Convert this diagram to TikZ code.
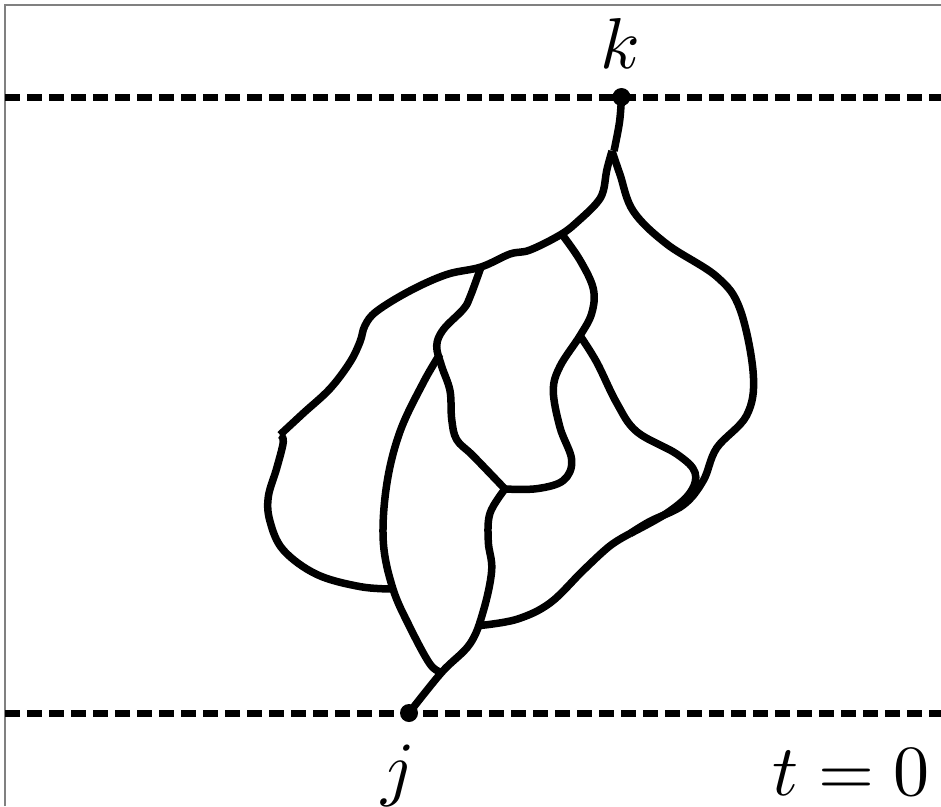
\documentclass[tikz,border=0pt]{standalone}
\begin{document}
\begin{tikzpicture}[x=1pt,y=-1pt,
  curve/.style={line width=7.5pt, line join=round},
  timeline/.style={line width=7pt, dash pattern=on 15pt off 7pt},
  vertexdot/.style={circle, fill=black, inner sep=0pt, minimum size=18pt},
  lbl/.style={scale=7.2, anchor=base, inner sep=0pt}]
\useasboundingbox (0,0) rectangle (941,806);
\draw[gray, line width=1.6pt] (5,806) -- (5,5) -- (941,5);
% time lines
\coordinate (TL) at (5,97);   \coordinate (TR) at (941,97);
\coordinate (BL) at (5,713);  \coordinate (BR) at (941,713);
\draw[timeline] (TL) -- (TR);
\draw[timeline] (BL) -- (BR);
% vertices and junctions
\coordinate (K) at (621.5,97);
\coordinate (J) at (409,713);
\coordinate (F) at (612,151);
\coordinate (J1) at (561.7,234);
\coordinate (J2) at (481,267);
\coordinate (J3) at (393,589);
\coordinate (J4) at (441.7,672.3);
\coordinate (J5) at (505,489);
\coordinate (J6) at (580,335.7);
\coordinate (J7) at (480,625.5);
\coordinate (J8) at (630,533.6);
\coordinate (J9) at (440,354);
% curves
\draw[curve] plot[smooth, tension=0.6] coordinates {(K) (619.5,122) (614,151)};
\draw[curve] plot[smooth, tension=0.6] coordinates {(F) (606.7,170.5) (603.3,190.9) (596.7,203) (580,219.4) (J1) (530,250) (510,254) (J2) (446.7,274.5) (410,290.8) (376.7,311.2) (365,325.5) (360,341.8) (350,362.2) (330,388.7) (303.3,413.2) (280,434.8)};
\draw[curve] plot[smooth, tension=0.6] coordinates {(280,434.8) (283.3,441.8) (276.7,468.3) (268.3,496.9) (270,521.3) (283.3,550) (316.7,574.4) (360,586.6) (J3)};
\draw[curve] plot[smooth, tension=0.6] coordinates {(J9) (423.3,382.6) (400,431.6) (386.7,484.6) (383.3,541.8) (J3) (410,627.4) (430,664.1) (J4)};
\draw[curve] plot[smooth, tension=0.6] coordinates {(J2) (470,297) (463.3,309.2) (443.3,329.6) (436.7,346) (441.7,366.3) (450,390.8) (451.7,419.3) (456.7,439.7) (473.3,456) (J5)};
\draw[curve] plot[smooth, tension=0.6] coordinates {(J1) (580,260.2) (593.3,288.8) (591.7,313.3) (J6) (560,366.3) (553.3,390.8) (560,427.5) (571.7,460.1) (563.3,480.5) (536.7,488.7) (J5)};
\draw[curve] plot[smooth, tension=0.6] coordinates {(J6) (596.7,362.2) (616.7,403) (636.7,431.6) (676.7,454) (695,472.4) (690,492.8) (666.7,513.2) (J8)};
\draw[curve] plot[smooth, tension=0.6] coordinates {(F) (620,174.5) (633.3,211.2) (666.7,244) (716.7,276.6) (740,309.2) (753.3,374.5) (746.7,415.3) (716.7,448) (703.3,480.5) (683.3,505) (650,521.3) (J8)};
\draw[curve] plot[smooth, tension=0.6] coordinates {(J8) (610,545.8) (583.3,570.3) (550,603) (516.7,619.3) (J7)};
\draw[curve] plot[smooth, tension=0.6] coordinates {(J5) (490,513.2) (488.3,541.8) (491.7,570.3) (483.3,611.1) (470,643.8) (J4) (J)};
\node[vertexdot] (k) at (K) {};
\node[vertexdot] (j) at (J) {};
\node[lbl] (klab) at (620,68) {$k$};
\node[lbl] (jlab) at (398,792) {$j$};
\node[lbl] (tlab) at (851,795) {$t=0$};
\end{tikzpicture}
\end{document}
